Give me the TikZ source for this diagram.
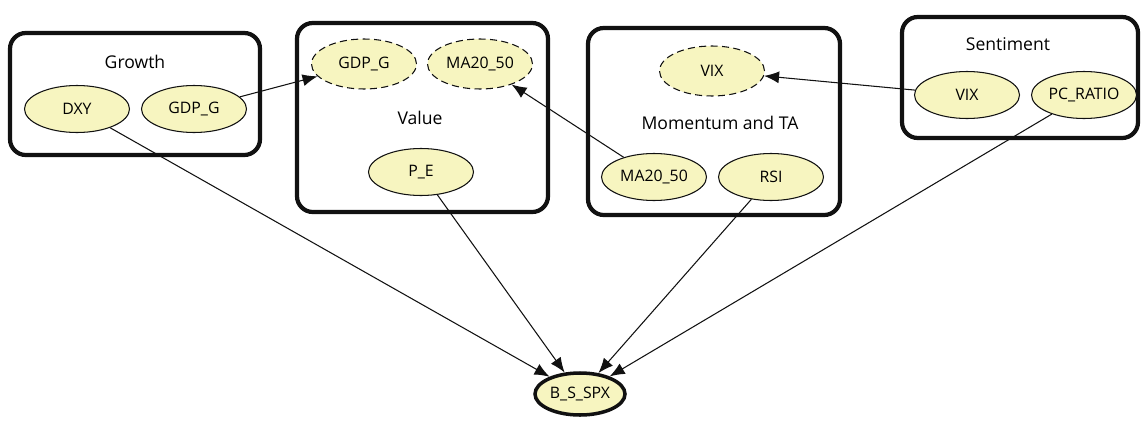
\documentclass[tikz,border=0pt]{standalone}
\usepackage{fontspec}
\setmainfont{Open Sans}
\definecolor{nYellow}{HTML}{F7F5C0}
\definecolor{nInk}{HTML}{111111}
\usepackage{tikz}
\usetikzlibrary{arrows.meta, shapes.geometric}

\begin{document}
\begin{tikzpicture}[
  group/.style={draw=nInk, line width=2.4pt, rounded corners=9pt, fill=white},
  var/.style={ellipse, draw=nInk, semithick, fill=nYellow, inner sep=0pt,
              minimum width=2.1cm, minimum height=0.94cm, font=\small},
  ghost/.style={var, dash pattern=on 4pt off 2.5pt, minimum height=1.0cm},
  target/.style={var, line width=2pt, minimum width=1.8cm, minimum height=0.84cm},
  lbl/.style={font=\normalsize},
  link/.style={-{Latex[length=3mm, width=2.4mm]}, nInk, semithick}]
  \useasboundingbox (0,0) rectangle (22.84,-8.4);
  % groups
  \node[group, minimum width=5.0cm,  minimum height=2.44cm] (growth) at (2.70,-1.88) {};
  \node[group, minimum width=5.02cm, minimum height=3.78cm] (value)  at (8.45,-2.35) {};
  \node[group, minimum width=5.04cm, minimum height=3.74cm] (mom)    at (14.28,-2.43) {};
  \node[group, minimum width=4.72cm, minimum height=2.42cm] (sent)   at (20.40,-1.55) {};
  \node[lbl] (growthlbl) at (2.70,-1.24)  {Growth};
  \node[lbl] (valuelbl)  at (8.40,-2.36)  {Value};
  \node[lbl] (momlbl)    at (14.40,-2.46) {Momentum and TA};
  \node[lbl] (sentlbl)   at (20.16,-0.88) {Sentiment};
  % variables
  \node[var]   (dxy)   at (1.54,-2.18)  {DXY};
  \node[var]   (gdpg)  at (3.88,-2.18)  {GDP\_G};
  \node[ghost] (gdpgv) at (7.28,-1.28)  {GDP\_G};
  \node[ghost] (mav)   at (9.60,-1.28)  {MA20\_50};
  \node[var]   (pe)    at (8.42,-3.44)  {P\_E};
  \node[ghost] (vixm)  at (14.24,-1.42) {VIX};
  \node[var]   (ma)    at (13.08,-3.54) {MA20\_50};
  \node[var]   (rsi)   at (15.42,-3.54) {RSI};
  \node[var]   (vix)   at (19.34,-1.90) {VIX};
  \node[var]   (pcr)   at (21.68,-1.90) {PC\_RATIO};
  \node[target] (bsspx) at (11.60,-7.88) {B\_S\_SPX};
  % links
  \draw[link] (gdpg) -- (gdpgv);
  \draw[link] (ma) -- (mav);
  \draw[link] (vix) -- (vixm);
  \foreach \n in {dxy,pe,rsi,pcr}{\draw[link] (\n) -- (bsspx);}
\end{tikzpicture}
\end{document}
